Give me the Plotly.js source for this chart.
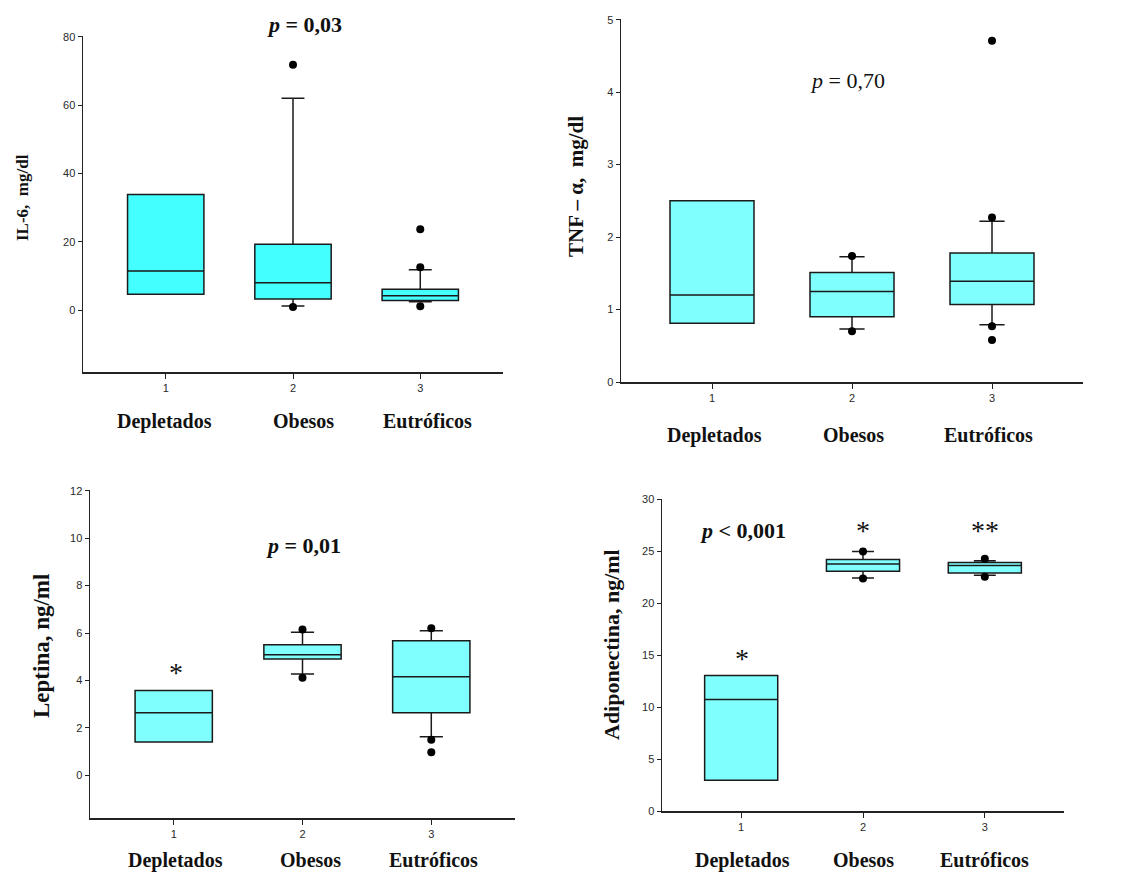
<!DOCTYPE html>
<html>
<head>
<meta charset="utf-8">
<script src="https://cdn.plot.ly/plotly-3.0.1.min.js"></script>
<style>html,body{margin:0;padding:0;background:#fff;}#chart{width:1126px;height:874px;}</style>
</head>
<body>
<div id="chart"></div>
<script>
// ---------- data ----------
const groups = ['Depletados', 'Obesos', 'Eutróficos'];
const xPos = [1, 2, 3];

// IL-6 (mg/dl)
const il6Q1 = [4.7, 3.3, 2.9];
const il6Med = [11.5, 8.1, 4.3];
const il6Q3 = [33.9, 19.3, 6.2];
const il6Lo = [4.7, 1.3, 2.5];
const il6Hi = [33.9, 62, 11.9];
const il6OutX = [2, 2, 3, 3, 3];
const il6OutY = [71.8, 1.0, 23.7, 12.6, 1.2];

// TNF-alpha (mg/dl)
const tnfQ1 = [0.81, 0.90, 1.07];
const tnfMed = [1.20, 1.25, 1.39];
const tnfQ3 = [2.50, 1.51, 1.78];
const tnfLo = [0.81, 0.73, 0.79];
const tnfHi = [2.50, 1.73, 2.22];
const tnfOutX = [2, 2, 3, 3, 3, 3];
const tnfOutY = [1.74, 0.70, 4.71, 2.27, 0.77, 0.58];

// Leptina (ng/ml)
const lepQ1 = [1.40, 4.90, 2.64];
const lepMed = [2.64, 5.08, 4.16];
const lepQ3 = [3.58, 5.50, 5.67];
const lepLo = [1.40, 4.27, 1.63];
const lepHi = [3.58, 6.03, 6.10];
const lepOutX = [2, 2, 3, 3, 3];
const lepOutY = [6.15, 4.11, 6.20, 1.50, 0.97];

// Adiponectina (ng/ml)
const adiQ1 = [2.96, 23.09, 22.93];
const adiMed = [10.73, 23.80, 23.64];
const adiQ3 = [13.04, 24.22, 23.93];
const adiLo = [2.96, 22.45, 22.70];
const adiHi = [13.04, 25.0, 24.1];
const adiOutX = [2, 2, 3, 3];
const adiOutY = [25.0, 22.39, 24.3, 22.55];

const tickLabels = ['1', '2', '3'];

// ---------- build ----------
const W = 1126, H = 874;
const px = v => v / W;
const py = v => 1 - v / H;

function boxTrace(q1, med, q3, lo, hi, fill, ax) {
  return {
    type: 'box', x: xPos, q1: q1, median: med, q3: q3,
    lowerfence: lo, upperfence: hi, boxpoints: false,
    width: 0.6, whiskerwidth: 0.3,
    fillcolor: fill, line: {color: '#1a1a1a', width: 1.5},
    xaxis: 'x' + ax, yaxis: 'y' + ax, showlegend: false, hoverinfo: 'skip'
  };
}
function outTrace(xs, ys, ax) {
  return {
    type: 'scatter', mode: 'markers', x: xs, y: ys,
    marker: {color: '#000', size: 8},
    xaxis: 'x' + ax, yaxis: 'y' + ax, showlegend: false, hoverinfo: 'skip'
  };
}

const data = [
  boxTrace(il6Q1, il6Med, il6Q3, il6Lo, il6Hi, '#44FFFF', ''),
  outTrace(il6OutX, il6OutY, ''),
  boxTrace(tnfQ1, tnfMed, tnfQ3, tnfLo, tnfHi, '#80FFFF', '2'),
  outTrace(tnfOutX, tnfOutY, '2'),
  boxTrace(lepQ1, lepMed, lepQ3, lepLo, lepHi, '#80FFFF', '3'),
  outTrace(lepOutX, lepOutY, '3'),
  boxTrace(adiQ1, adiMed, adiQ3, adiLo, adiHi, '#80FFFF', '4'),
  outTrace(adiOutX, adiOutY, '4')
];

const tickFont = {family: 'Liberation Sans, Arial, sans-serif', size: 11, color: '#2a2a2a'};
function xAx(domain, anchor) {
  return {
    domain: domain, anchor: anchor, range: [0.35, 3.65],
    tickvals: xPos, ticktext: tickLabels, ticks: 'outside', ticklen: 5,
    tickcolor: '#222', showline: true, linecolor: '#222', linewidth: 1.5,
    showgrid: false, zeroline: false, tickfont: tickFont, fixedrange: true
  };
}
function yAx(domain, anchor, range, dtick) {
  return {
    domain: domain, anchor: anchor, range: range, tick0: 0, dtick: dtick,
    ticks: 'outside', ticklen: 4, tickcolor: '#222',
    showline: true, linecolor: '#222', linewidth: 1.5,
    showgrid: false, zeroline: false, tickfont: tickFont, fixedrange: true
  };
}

const serif = 'Liberation Serif, Times New Roman, serif';
const annotations = [];
function txt(x, y, text, size, bold, angle) {
  annotations.push({
    xref: 'paper', yref: 'paper', x: px(x), y: py(y), text: text,
    showarrow: false, xanchor: 'center', yanchor: 'middle',
    textangle: angle || 0,
    font: {family: serif, size: size, color: '#111', weight: bold ? 'bold' : 'normal'}
  });
}

// x group labels
const lab1X = [164, 303, 427], lab2X = [714, 853, 988], lab3X = [175, 310, 433], lab4X = [742, 863, 985];
groups.forEach((g, i) => {
  txt(lab1X[i], 421, '<b>' + g + '</b>', 20, true);
  txt(lab2X[i], 435, '<b>' + g + '</b>', 20, true);
  txt(lab3X[i], 860, '<b>' + g + '</b>', 20, true);
  txt(lab4X[i], 860, '<b>' + g + '</b>', 20, true);
});

// y-axis titles
txt(22, 198, '<b>IL-6,  mg/dl</b>', 17, true, -90);
txt(576, 187, '<b>TNF – α,  mg/dl</b>', 21, true, -90);
txt(41, 646, '<b>Leptina, ng/ml</b>', 23, true, -90);
txt(611, 645, '<b>Adiponectina, ng/ml</b>', 22, true, -90);

// p-values
txt(304, 25, '<b><i>p</i> = 0,03</b>', 22, true);
txt(847, 80, '<i>p</i> = 0,70', 22, false);
txt(303, 545, '<b><i>p</i> = 0,01</b>', 22, true);
txt(743, 530, '<b><i>p</i> < 0,001</b>', 22, true);

// asterisks
txt(176, 672, '*', 28, false);
txt(863, 530, '*', 28, false);
txt(985, 530, '**', 28, false);
txt(742, 658, '*', 28, false);

const layout = {
  width: W, height: H, autosize: false,
  margin: {l: 0, r: 0, t: 0, b: 0},
  paper_bgcolor: '#fff', plot_bgcolor: 'rgba(0,0,0,0)',
  boxmode: 'overlay', showlegend: false,
  xaxis: xAx([px(83), px(503)], 'y'),
  yaxis: yAx([py(372), py(36)], 'x', [-18, 80.2], 20),
  xaxis2: xAx([px(621), px(1083)], 'y2'),
  yaxis2: yAx([py(382), py(19)], 'x2', [0, 5.01], 1),
  xaxis3: xAx([px(90), px(515)], 'y3'),
  yaxis3: yAx([py(818), py(490)], 'x3', [-1.8, 12.03], 2),
  xaxis4: xAx([px(662), px(1064)], 'y4'),
  yaxis4: yAx([py(811), py(499)], 'x4', [0, 30.05], 5),
  annotations: annotations
};

Plotly.newPlot('chart', data, layout, {displayModeBar: false, staticPlot: true});
</script>
</body>
</html>
